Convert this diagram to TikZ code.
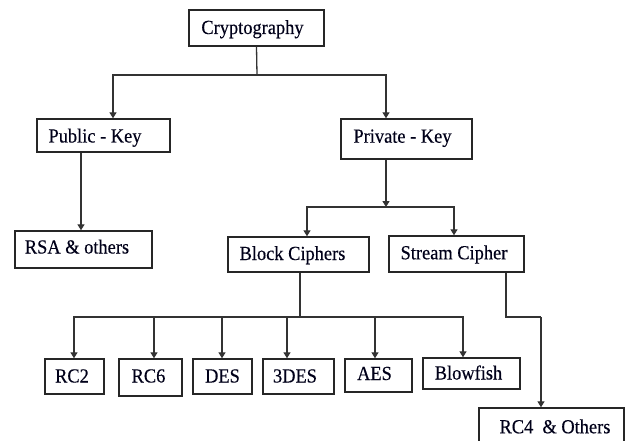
\documentclass[tikz,border=0pt]{standalone}
\usepackage{fontspec}
\setmainfont{Liberation Serif}[FakeStretch=0.92,FakeBold=0.3]
\usetikzlibrary{arrows.meta}
\begin{document}
\begin{tikzpicture}[x=1pt,y=-1pt,
  box/.style={draw=black!85,line width=1.4pt,fill=white,inner sep=0pt,rectangle},
  lbl/.style={font=\fontsize{20}{22}\selectfont,text=black!90!blue,inner sep=0pt,text height=14pt,text depth=4pt},
  con/.style={draw=black!80,line width=1.3pt},
  arr/.style={con,-{Triangle[length=6pt,width=7pt]}}]
\clip (0,0) rectangle (632,441);
\fill[white] (0,0) rectangle (632,441);
% boxes
\node[box,minimum width=135,minimum height=36,label={[lbl,xshift=-4,yshift=-1]center:Cryptography}] (crypto) at (256.5,28) {};
\node[box,minimum width=133,minimum height=33,label={[lbl,xshift=-8.5,yshift=-2]center:Public - Key}] (pub) at (103.5,135.5) {};
\node[box,minimum width=131,minimum height=40,label={[lbl,xshift=-4,yshift=1.3]center:Private - Key}] (priv) at (406.5,139) {};
\node[box,minimum width=137,minimum height=37,label={[lbl,xshift=-6.5,yshift=1]center:RSA \& others}] (rsa) at (83.5,249.5) {};
\node[box,minimum width=141,minimum height=35,label={[lbl,xshift=-6,yshift=-0.5]center:Block Ciphers}] (block) at (298.5,254.5) {};
\node[box,minimum width=135,minimum height=36,label={[lbl,xshift=-2.5,yshift=-0.3]center:Stream Cipher}] (stream) at (456.5,254) {};
\node[box,minimum width=59,minimum height=35,label={[lbl,xshift=-2.5,yshift=-1]center:RC2}] (rc2) at (74.5,376.5) {};
\node[box,minimum width=63,minimum height=37,label={[lbl,xshift=-2,yshift=0]center:RC6}] (rc6) at (150.5,377.5) {};
\node[box,minimum width=59,minimum height=35,label={[lbl,yshift=-1]center:DES}] (des) at (222.5,376.5) {};
\node[box,minimum width=71,minimum height=35,label={[lbl,xshift=-3.5,yshift=-1]center:3DES}] (tdes) at (298.5,376.5) {};
\node[box,minimum width=67,minimum height=33,label={[lbl,xshift=-4,yshift=0.5]center:AES}] (aes) at (378.5,375.5) {};
\node[box,minimum width=97,minimum height=31,label={[lbl,xshift=-3,yshift=-1]center:Blowfish}] (blow) at (471.5,373.5) {};
\node[box,minimum width=145,minimum height=44,label={[lbl,xshift=3.5,yshift=1.7]center:RC4 \ \& Others}] (rc4) at (551.5,430) {};
% connectors
\coordinate (h1) at (257,75);
\draw[con] (crypto.south) -- (h1);
\draw[arr] (h1) -| (pub.north -| 113,0);
\draw[arr] (h1) -| (priv.north -| 386,0);
\draw[arr] (pub.south -| 81,0) -- (rsa.north -| 81,0);
\coordinate (h2) at (386,207);
\draw[arr] (priv.south -| 386,0) -- (h2);
\draw[arr] (h2) -| (block.north -| 307,0);
\draw[arr] (h2) -| (stream.north -| 454,0);
\coordinate (h3) at (300,317);
\draw[con] (block.south -| 300,0) -- (h3);
\draw[arr] (h3) -| (rc2.north -| 74,0);
\draw[arr] (h3) -| (rc6.north -| 154,0);
\draw[arr] (h3) -| (des.north -| 222,0);
\draw[arr] (h3) -| (tdes.north -| 287,0);
\draw[arr] (h3) -| (aes.north -| 375,0);
\draw[arr] (h3) -| (blow.north -| 463,0);
\coordinate (h4) at (541,317);
\draw[con] (stream.south -| 506,0) |- (h4);
\draw[arr] (h4) -- (rc4.north -| 541,0);
\end{tikzpicture}
\end{document}
